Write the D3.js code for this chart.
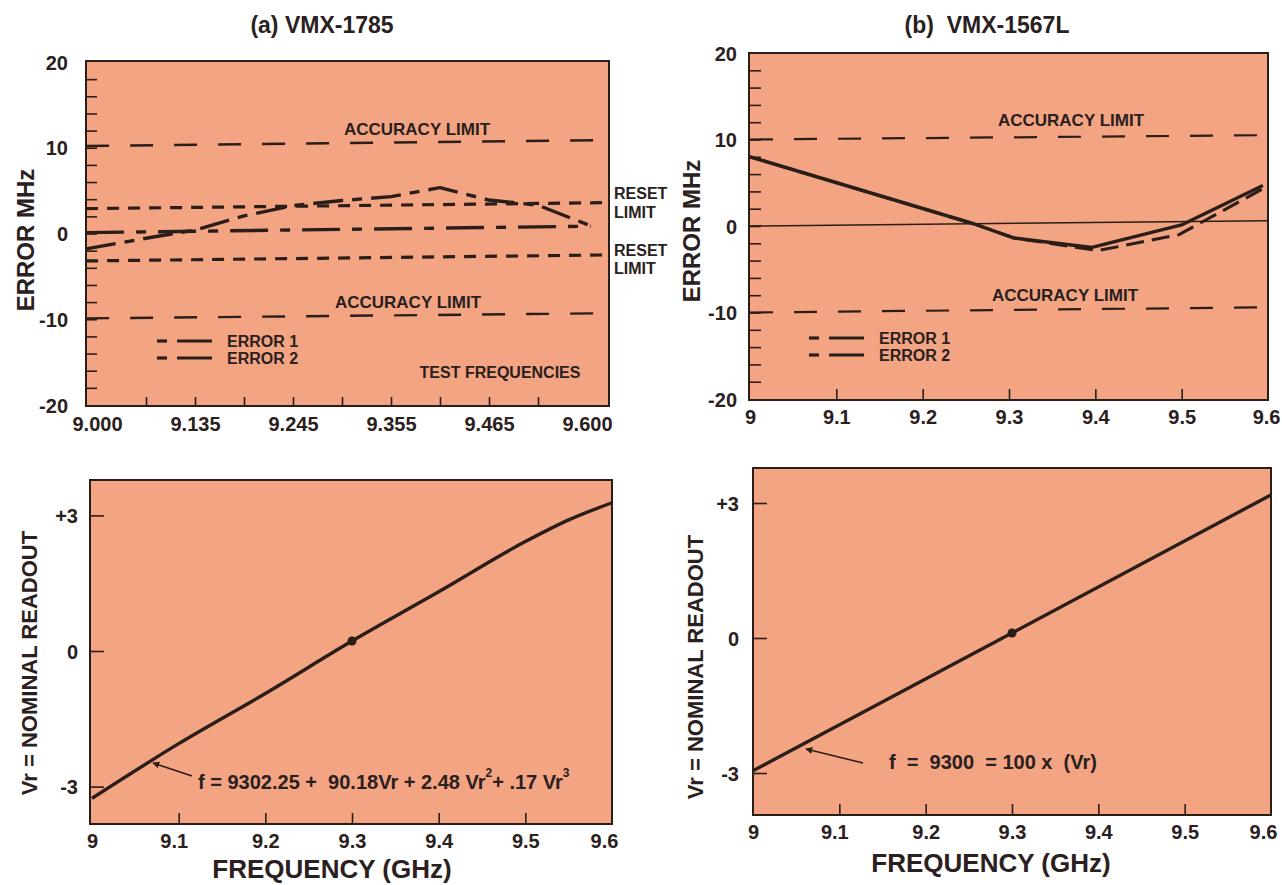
<!DOCTYPE html>
<html><head><meta charset="utf-8">
<script src="https://cdn.jsdelivr.net/npm/d3@7"></script>
<style>
body{margin:0;background:#fff}
svg text{font-family:"Liberation Sans",Arial,sans-serif;font-weight:bold;fill:#2a2020}
</style>
</head><body>
<svg id="c" width="1282" height="885"></svg>
<script>
// ================= DATA =================
// Panel (a) VMX-1785 — error vs test frequency
const aTestFreqs = [9.000, 9.135, 9.245, 9.355, 9.465, 9.600];
const aTestFreqLabels = ["9.000", "9.135", "9.245", "9.355", "9.465", "9.600"];
const aErrTickLabels = [-20, -10, 0, 10, 20];
const aLimitFreq = [8.985, 9.630];
const aAccUpper = [10.2, 10.9];
const aAccLower = [-9.9, -9.3];
const aResetUpper = [2.9, 3.6];
const aResetLower = [-3.2, -2.5];
const aError1Freq = [8.985, 9.605];
const aError1Val = [0.1, 0.85];
const aError2Freq = [8.985, 9.0675, 9.135, 9.19, 9.245, 9.30, 9.355, 9.41, 9.465, 9.5325, 9.605];
const aError2Val = [-1.8, -0.55, 0.4, 2.05, 3.25, 3.85, 4.3, 5.35, 3.9, 3.3, 0.9];

// Panel (b) VMX-1567L — error vs frequency
const bFreqTicks = [9, 9.1, 9.2, 9.3, 9.4, 9.5, 9.6];
const bErrTickLabels = [-20, -10, 0, 10, 20];
const bLimitFreq = [9.0, 9.6];
const bAccUpper = [10.0, 10.5];
const bAccLower = [-10.0, -9.4];
const bZeroLine = [0.0, 0.6];
const bError1Freq = [9.0, 9.259, 9.306, 9.396, 9.501, 9.594];
const bError1Val = [8.0, 0.26, -1.39, -2.48, 0.17, 4.68];
const bError2Freq = [9.0, 9.259, 9.306, 9.403, 9.497, 9.594];
const bError2Val = [8.0, 0.26, -1.39, -2.85, -1.0, 4.3];

// Bottom: nominal readout Vr vs frequency
const calFreqTicks = [9, 9.1, 9.2, 9.3, 9.4, 9.5, 9.6];
const vrTicks = [-3, 0, 3];
const vrTickLabels = ["-3", "0", "+3"];
const aCalFreq = [9.0, 9.1, 9.2, 9.3, 9.4, 9.5, 9.55, 9.6];
const aCalVr = [-3.26, -2.05, -0.94, 0.22, 1.31, 2.42, 2.90, 3.28];
const aCalPoint = [9.3, 0.22];
const bCalFreq = [9.0, 9.3, 9.6];
const bCalVr = [-2.95, 0.11, 3.18];
const bCalPoint = [9.3, 0.11];

// ================= DRAW =================
const ink = "#2b1e19";
const bg = "#f3a482";
const svg = d3.select("#c");

svg.append("defs").append("marker")
  .attr("id", "arr").attr("viewBox", "0 0 10 10").attr("refX", 9).attr("refY", 5)
  .attr("markerWidth", 7).attr("markerHeight", 7).attr("orient", "auto-start-reverse")
  .attr("markerUnits", "userSpaceOnUse")
  .append("path").attr("d", "M0,0 L10,5 L0,10 z").attr("fill", ink);

function box(b) {
  svg.append("rect").attr("x", b.l).attr("y", b.t).attr("width", b.r - b.l).attr("height", b.b - b.t)
    .attr("fill", bg);
}
function border(b) {
  svg.append("rect").attr("x", b.l).attr("y", b.t).attr("width", b.r - b.l).attr("height", b.b - b.t)
    .attr("fill", "none").attr("stroke", ink).attr("stroke-width", 2);
}
function line(xs, ys, x, y, w, dash) {
  const pts = xs.map((d, i) => [x(d), y(ys[i])]);
  const p = svg.append("path").attr("d", d3.line()(pts)).attr("fill", "none")
    .attr("stroke", ink).attr("stroke-width", w).attr("stroke-linejoin", "round");
  if (dash) p.attr("stroke-dasharray", dash);
  return p;
}
function txt(s, x, y, size, anchor, rot) {
  const t = svg.append("text").attr("x", x).attr("y", y).attr("font-size", size)
    .attr("text-anchor", anchor || "middle").style("white-space", "pre").text(s);
  if (rot) t.attr("transform", `rotate(${rot},${x},${y})`);
  return t;
}
function cleanAxis(g) {
  g.select(".domain").remove();
  g.selectAll("line").attr("stroke", ink).attr("stroke-width", 1.6);
  g.selectAll("text").attr("fill", "#2a2020").attr("font-family", null).attr("font-size", null);
}
function legend(x0, ys, labels) {
  ys.forEach((yy, i) => {
    svg.append("line").attr("x1", x0).attr("x2", x0 + 10).attr("y1", yy).attr("y2", yy)
      .attr("stroke", ink).attr("stroke-width", 3.2);
    svg.append("line").attr("x1", x0 + 20).attr("x2", x0 + 55).attr("y1", yy).attr("y2", yy)
      .attr("stroke", ink).attr("stroke-width", 3.2);
    txt(labels[i], x0 + 70, yy + 6, 16, "start");
  });
}
const plain = d => String(d);

const LABELS = ["ERROR 1", "ERROR 2"];

// ---------- Panel (a) top ----------
{
  const B = {l: 86, r: 609, t: 61, b: 406};
  const x = d3.scaleLinear().domain(aTestFreqs).range([97, 195, 293, 391, 489, 587]);
  const y = d3.scaleLinear().domain([-20, 20]).range([405, 62]);
  box(B);
  const ya = svg.append("g").attr("transform", `translate(${B.l},0)`)
    .call(d3.axisRight(y).tickValues(d3.range(-18, 19, 2)).tickSize(11).tickFormat(""));
  cleanAxis(ya);
  const mids = aTestFreqs.slice(1).map((f, i) => (f + aTestFreqs[i]) / 2);
  const xt = svg.append("g").attr("transform", `translate(0,${B.b})`)
    .call(d3.axisTop(x).tickValues(mids.concat(aTestFreqs.slice(1, -1))).tickSize(9).tickFormat(""));
  cleanAxis(xt);
  const yl = svg.append("g").attr("transform", `translate(${B.l},0)`)
    .call(d3.axisLeft(y).tickValues(aErrTickLabels).tickSize(0).tickPadding(18).tickFormat(plain));
  cleanAxis(yl); yl.selectAll("text").attr("font-size", 20).attr("dy", "0.36em");
  const xl = svg.append("g").attr("transform", `translate(0,${B.b})`)
    .call(d3.axisBottom(x).tickValues(aTestFreqs).tickSize(0).tickPadding(6).tickFormat((d, i) => aTestFreqLabels[i]));
  cleanAxis(xl); xl.selectAll("text").attr("font-size", 20).attr("dy", "0.95em");

  line(aLimitFreq, aAccUpper, x, y, 2.4, "23,21");
  line(aLimitFreq, aAccLower, x, y, 2.4, "23,21");
  line(aLimitFreq, aResetUpper, x, y, 3.2, "12,9");
  line(aLimitFreq, aResetLower, x, y, 3.2, "12,9");
  line(aError1Freq, aError1Val, x, y, 3.4, "38,12,10,12");
  line(aError2Freq, aError2Val, x, y, 3.4, "30,9,10,9");

  txt("ACCURACY LIMIT", 417, 135, 17);
  txt("ACCURACY LIMIT", 408, 308, 17);
  txt("RESET", 614, 199, 16, "start");
  txt("LIMIT", 614, 218, 16, "start");
  txt("RESET", 614, 256, 16, "start");
  txt("LIMIT", 614, 274, 16, "start");
  txt("TEST FREQUENCIES", 500, 378, 16);
  legend(157, [341, 358], LABELS);
  border(B);
  txt("(a) VMX-1785", 322, 33, 23);
  txt("ERROR MHz", 34, 240, 24, "middle", -90);
}

// ---------- Panel (b) top ----------
{
  const B = {l: 749, r: 1268, t: 53, b: 400};
  const x = d3.scaleLinear().domain([9.0, 9.6]).range([750, 1268]);
  const y = d3.scaleLinear().domain([-20, 20]).range([399, 53]);
  box(B);
  const ya = svg.append("g").attr("transform", `translate(${B.l},0)`)
    .call(d3.axisRight(y).tickValues(d3.range(-18, 19, 2)).tickSize(12).tickFormat(""));
  cleanAxis(ya);
  const xt = svg.append("g").attr("transform", `translate(0,${B.b})`)
    .call(d3.axisTop(x).tickValues(bFreqTicks.slice(1, -1)).tickSize(11).tickFormat(""));
  cleanAxis(xt);
  const yl = svg.append("g").attr("transform", `translate(${B.l},0)`)
    .call(d3.axisLeft(y).tickValues(bErrTickLabels).tickSize(0).tickPadding(12).tickFormat(plain));
  cleanAxis(yl); yl.selectAll("text").attr("font-size", 20).attr("dy", "0.36em");
  const xl = svg.append("g").attr("transform", `translate(0,${B.b})`)
    .call(d3.axisBottom(x).tickValues(bFreqTicks).tickSize(0).tickPadding(5).tickFormat(plain));
  cleanAxis(xl); xl.selectAll("text").attr("font-size", 20).attr("dy", "0.95em");
  xl.selectAll("text").filter(d => d === 9.6).attr("text-anchor", "end").attr("dx", 12);

  line(bLimitFreq, bAccUpper, x, y, 2.2, "23,21");
  line(bLimitFreq, bAccLower, x, y, 2.2, "23,21");
  line(bLimitFreq, bZeroLine, x, y, 1.5);
  line(bError2Freq, bError2Val, x, y, 3, "18,8");
  line(bError1Freq, bError1Val, x, y, 3.4);

  txt("ACCURACY LIMIT", 1071, 126, 17);
  txt("ACCURACY LIMIT", 1065, 301, 17);
  legend(809, [338, 355], LABELS);
  border(B);
  txt("(b)  VMX-1567L", 987, 33, 23);
  txt("ERROR MHz", 700, 231, 24, "middle", -90);
}

// ---------- Calibration panels ----------
function calPanel(B, x, y, fx, vr, pt, yPad, arrow) {
  box(B);
  const ya = svg.append("g").attr("transform", `translate(${B.l},0)`)
    .call(d3.axisRight(y).tickValues(vrTicks).tickSize(14).tickFormat(""));
  cleanAxis(ya);
  const xt = svg.append("g").attr("transform", `translate(0,${B.b})`)
    .call(d3.axisTop(x).tickValues(calFreqTicks.slice(1, -1)).tickSize(11).tickFormat(""));
  cleanAxis(xt);
  const yl = svg.append("g").attr("transform", `translate(${B.l},0)`)
    .call(d3.axisLeft(y).tickValues(vrTicks).tickSize(0).tickPadding(yPad).tickFormat((d, i) => vrTickLabels[i]));
  cleanAxis(yl); yl.selectAll("text").attr("font-size", 20).attr("dy", "0.36em");
  const xl = svg.append("g").attr("transform", `translate(0,${B.b})`)
    .call(d3.axisBottom(x).tickValues(calFreqTicks).tickSize(0).tickPadding(5).tickFormat(plain));
  cleanAxis(xl); xl.selectAll("text").attr("font-size", 20).attr("dy", "0.95em");
  xl.selectAll("text").filter(d => d === 9.6).attr("dx", -8);
  xl.selectAll("text").filter(d => d === 9.1).attr("dx", -5);

  svg.append("path")
    .attr("d", d3.line().curve(d3.curveMonotoneX)(fx.map((d, i) => [x(d), y(vr[i])])))
    .attr("fill", "none").attr("stroke", ink).attr("stroke-width", 3.4);
  svg.append("circle").attr("cx", x(pt[0])).attr("cy", y(pt[1])).attr("r", 4.5).attr("fill", ink);
  svg.append("line").attr("x1", arrow[0]).attr("y1", arrow[1]).attr("x2", arrow[2]).attr("y2", arrow[3])
    .attr("stroke", ink).attr("stroke-width", 1.6).attr("marker-end", "url(#arr)");
  border(B);
}

{
  const B = {l: 90, r: 612, t: 480, b: 824};
  const x = d3.scaleLinear().domain([9.0, 9.6]).range([92, 612]);
  const y = d3.scaleLinear().domain([-3, 3]).range([786.6, 515.4]);
  calPanel(B, x, y, aCalFreq, aCalVr, aCalPoint, 12, [192, 776, 153, 763]);
  const t = txt("", 198, 789, 20, "start");
  t.append("tspan").text("f = 9302.25 +  90.18Vr + 2.48 Vr");
  t.append("tspan").attr("font-size", 12).attr("dy", -12).text("2");
  t.append("tspan").attr("dy", 12).text("+ .17 Vr");
  t.append("tspan").attr("font-size", 12).attr("dy", -12).text("3");
  txt("FREQUENCY (GHz)", 332, 878, 26);
  txt("Vr = NOMINAL READOUT", 37, 663, 22, "middle", -90);
}
{
  const B = {l: 753, r: 1271, t: 468, b: 815};
  const x = d3.scaleLinear().domain([9.0, 9.6]).range([753, 1271]);
  const y = d3.scaleLinear().domain([-3, 3]).range([773, 503]);
  calPanel(B, x, y, bCalFreq, bCalVr, bCalPoint, 14, [863, 763, 806, 749]);
  txt("f  =  9300  = 100 x  (Vr)", 889, 769, 20, "start");
  txt("FREQUENCY (GHz)", 991, 872, 26);
  txt("Vr = NOMINAL READOUT", 703, 667, 22, "middle", -90);
}
</script>
</body></html>
